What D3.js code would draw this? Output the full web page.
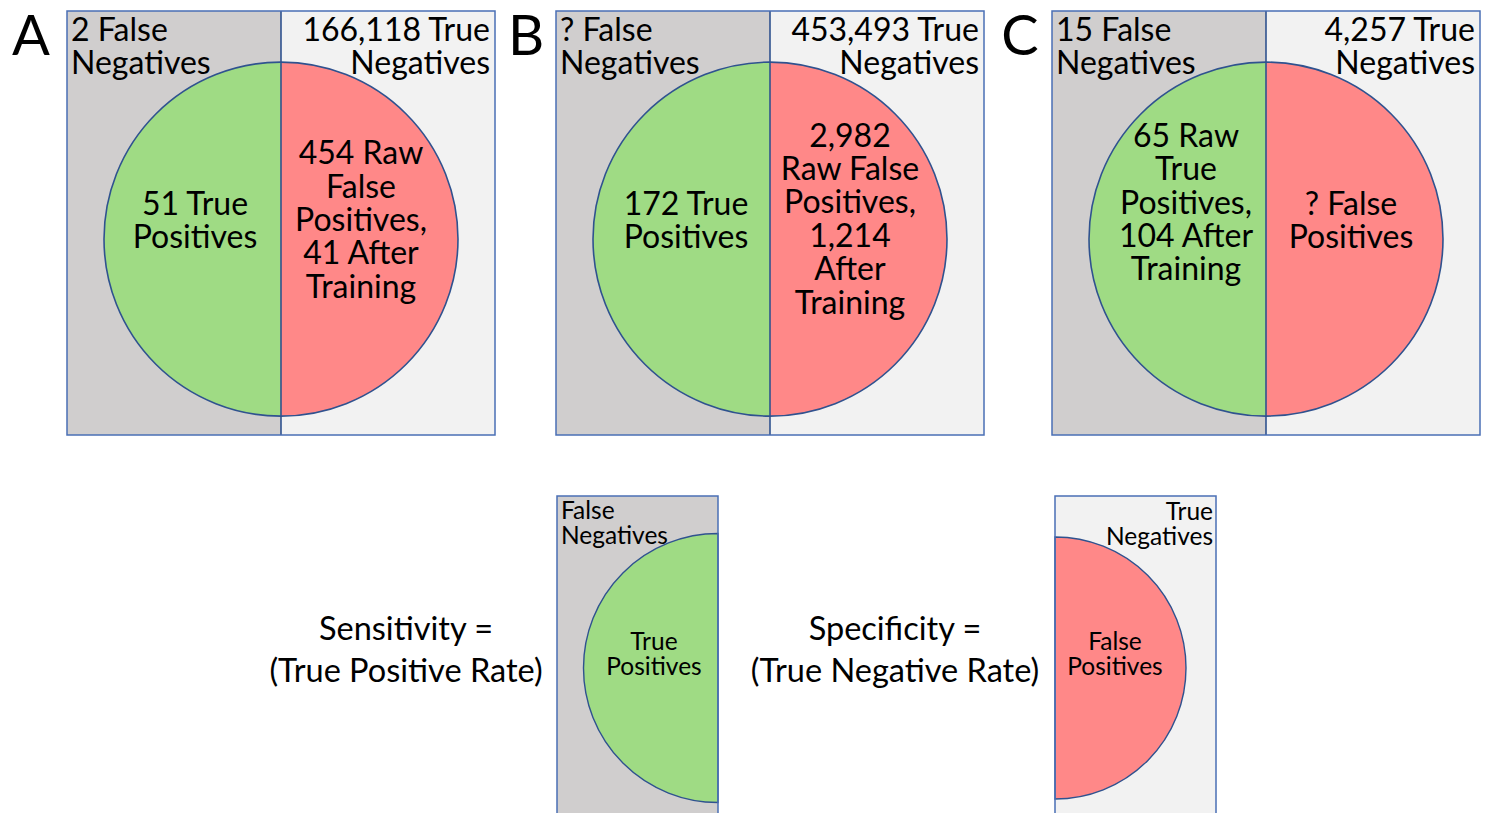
<!DOCTYPE html>
<html>
<head>
<meta charset="utf-8">
<script src="https://cdn.jsdelivr.net/npm/d3@7"></script>
<style>
  html, body { margin: 0; padding: 0; background: #ffffff; }
  svg { display: block; }
  text { font-family: Lato, "Open Sans", sans-serif; fill: #000; }
</style>
</head>
<body>
<svg id="chart" width="1497" height="813"></svg>
<script>
// ---- data ----
const panels = ["A", "B", "C"];
const falseNegLabels = [["2 False", "Negatives"], ["? False", "Negatives"], ["15 False", "Negatives"]];
const trueNegLabels = [["166,118 True", "Negatives"], ["453,493 True", "Negatives"], ["4,257 True", "Negatives"]];
const truePosLabels = [
  ["51 True", "Positives"],
  ["172 True", "Positives"],
  ["65 Raw", "True", "Positives,", "104 After", "Training"]
];
const falsePosLabels = [
  ["454 Raw", "False", "Positives,", "41 After", "Training"],
  ["2,982", "Raw False", "Positives,", "1,214", "After", "Training"],
  ["? False", "Positives"]
];
const legendItems = ["Sensitivity", "Specificity"];
const legendFormulas = [["Sensitivity =", "(True Positive Rate)"], ["Specificity =", "(True Negative Rate)"]];
const legendBoxLabels = [["False", "Negatives"], ["True", "Negatives"]];
const legendShapeLabels = [["True", "Positives"], ["False", "Positives"]];

// ---- styles / layout ----
const C = {
  neg: "#d0cece",
  negLight: "#f2f2f2",
  green: "#9fdb84",
  red: "#ff8888",
  circleStroke: "#2f528f",
  boxStroke: "#4a6fb5"
};
const letterOffset = [-36, -30, -32];
const greenTextOffset = [-86, -84, -80];
const greenTextCenter = [220, 220, 202];
const redTextOffset = [80, 80, 85];
const redTextCenter = [219.5, 218.5, 220];

const svg = d3.select("#chart");

// ---- top panels ----
const x = d3.scaleOrdinal().domain(panels).range([67, 556, 1052]);
const y = d3.scaleLinear().domain([0, 1]).range([11, 435]);
const bw = 428;
const r = 177;
const cyRel = 0.538;
const lineH = 33.4;
const fs = 32;

const arcL = d3.arc().innerRadius(0).startAngle(Math.PI).endAngle(2 * Math.PI);
const arcR = d3.arc().innerRadius(0).startAngle(0).endAngle(Math.PI);

function multiline(g, lines, xPos, yCenter, anchor, size, lh) {
  const n = lines.length;
  const y0 = yCenter - (n - 1) * lh / 2 + size * 0.36;
  g.append("text")
    .attr("text-anchor", anchor)
    .attr("font-size", size)
    .selectAll("tspan")
    .data(lines)
    .join("tspan")
    .attr("x", xPos)
    .attr("y", (d, i) => y0 + i * lh)
    .text(d => d);
}

panels.forEach((p, i) => {
  const x0 = x(p);
  const xm = x0 + bw / 2;
  const y0 = y(0), y1 = y(1);
  const cy = y(cyRel);
  const g = svg.append("g");

  g.append("rect").attr("x", x0).attr("y", y0).attr("width", bw / 2).attr("height", y1 - y0).attr("fill", C.neg);
  g.append("rect").attr("x", xm).attr("y", y0).attr("width", bw / 2).attr("height", y1 - y0).attr("fill", C.negLight);

  g.append("path").attr("d", arcL.outerRadius(r)()).attr("transform", `translate(${xm},${cy})`).attr("fill", C.green);
  g.append("path").attr("d", arcR.outerRadius(r)()).attr("transform", `translate(${xm},${cy})`).attr("fill", C.red);
  g.append("circle").attr("cx", xm).attr("cy", cy).attr("r", r).attr("fill", "none")
    .attr("stroke", C.circleStroke).attr("stroke-width", 1.6);
  g.append("line").attr("x1", xm).attr("x2", xm).attr("y1", y0).attr("y2", y1)
    .attr("stroke", C.circleStroke).attr("stroke-width", 1.6);
  g.append("rect").attr("x", x0).attr("y", y0).attr("width", bw).attr("height", y1 - y0)
    .attr("fill", "none").attr("stroke", C.boxStroke).attr("stroke-width", 1.5);

  // panel letter
  g.append("text").attr("x", x0 + letterOffset[i]).attr("y", 55).attr("text-anchor", "middle")
    .attr("font-size", 56).text(p);

  multiline(g, falseNegLabels[i], x0 + 4, 46, "start", fs, lineH);
  multiline(g, trueNegLabels[i], x0 + bw - 5, 46, "end", fs, lineH);
  multiline(g, truePosLabels[i], xm + greenTextOffset[i], greenTextCenter[i], "middle", fs, lineH);
  multiline(g, falsePosLabels[i], xm + redTextOffset[i], redTextCenter[i], "middle", fs, lineH);
});

// ---- bottom legend ----
const lx = d3.scaleOrdinal().domain(legendItems).range([557, 1055]);
const ly = d3.scaleLinear().domain([0, 1]).range([496, 840]);
const lbw = 161;
const lr = [134.5, 131];
const lcy = 668;

legendItems.forEach((item, i) => {
  const x0 = lx(item);
  const g = svg.append("g");
  const isSens = i === 0;
  g.append("rect").attr("x", x0).attr("y", ly(0)).attr("width", lbw).attr("height", ly(1) - ly(0))
    .attr("fill", isSens ? C.neg : C.negLight);
  const cx = isSens ? x0 + lbw : x0;
  const arc = isSens ? arcL.outerRadius(lr[i]) : arcR.outerRadius(lr[i]);
  g.append("path").attr("d", arc()).attr("transform", `translate(${cx},${lcy})`)
    .attr("fill", isSens ? C.green : C.red).attr("stroke", C.circleStroke).attr("stroke-width", 1.4);
  g.append("rect").attr("x", x0).attr("y", ly(0)).attr("width", lbw).attr("height", ly(1) - ly(0))
    .attr("fill", "none").attr("stroke", C.boxStroke).attr("stroke-width", 1.5);

  if (isSens) {
    multiline(g, legendBoxLabels[i], x0 + 4, 522.5, "start", 24.5, 25);
    multiline(g, legendShapeLabels[i], x0 + 97, 653.5, "middle", 24.5, 25);
  } else {
    multiline(g, legendBoxLabels[i], x0 + lbw - 3, 523.5, "end", 24.5, 25);
    multiline(g, legendShapeLabels[i], x0 + 60, 653.5, "middle", 24.5, 25);
  }
  multiline(g, legendFormulas[i], x0 - (isSens ? 151 : 160), 649, "middle", 32.5, 42);
});
</script>
</body>
</html>
